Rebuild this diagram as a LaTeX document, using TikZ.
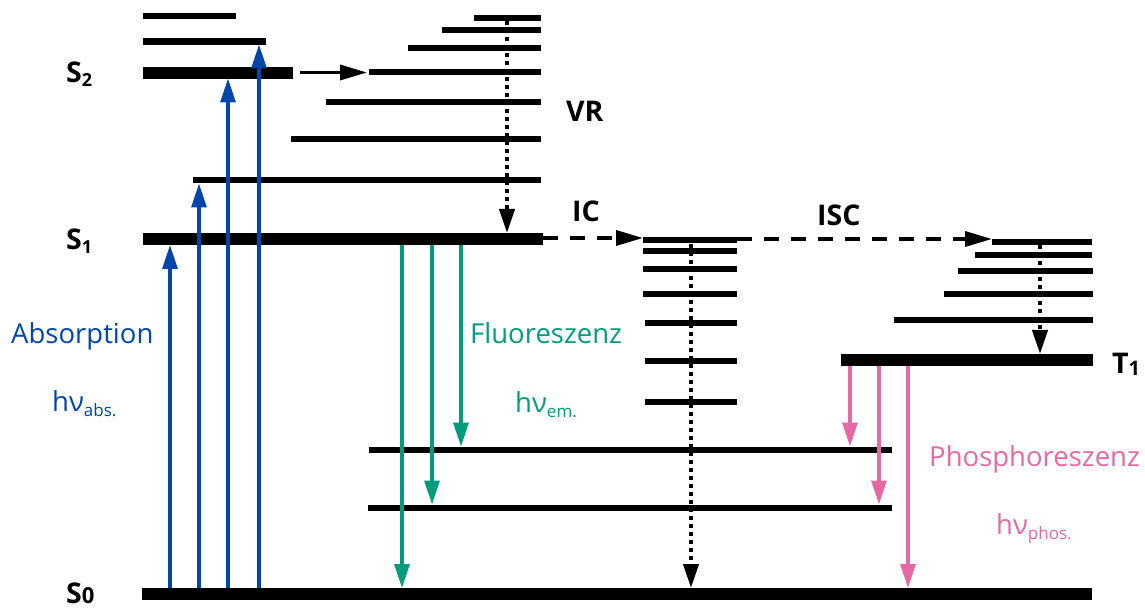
\documentclass[tikz,border=0pt]{standalone}
\usepackage{fontspec}
\setmainfont{Open Sans}
\usetikzlibrary{arrows.meta}
\definecolor{absblue}{RGB}{0,70,170}
\definecolor{fluogreen}{RGB}{0,155,125}
\definecolor{phospink}{RGB}{228,105,165}
\begin{document}
\begin{tikzpicture}[x=1pt,y=-1pt,
  thinlvl/.style={line width=6.8pt},
  thicklvl/.style={line width=12pt},
  bigtip/.style={-{Triangle[length=24pt,width=15pt]}},
  absarrow/.style={bigtip, draw=absblue, fill=absblue, line width=3.2pt},
  fluoarrow/.style={bigtip, draw=fluogreen, fill=fluogreen, line width=3.2pt},
  phosarrow/.style={bigtip, draw=phospink, fill=phospink, line width=3.2pt},
  dotarrow/.style={bigtip, line width=4pt, dash pattern=on 4pt off 4pt},
  dasharrow/.style={-{Triangle[length=27pt,width=15pt]}, line width=3.5pt, dash pattern=on 15pt off 12pt},
  statelbl/.style={inner sep=0pt, anchor=base west, font=\fontsize{28.5}{30}\selectfont\bfseries},
  proclbl/.style={inner sep=0pt, anchor=base west, font=\fontsize{27.5}{30}\selectfont},
]
\useasboundingbox (0,0) rectangle (1145,609);

% ---- S2 group (left)
\draw[thinlvl] (143,16) -- (236,16);
\draw[thinlvl] (143,41.5) -- (266,41.5);
\draw[thicklvl] (143,73) -- (293,73);
% ---- S1 vibrational ladder
\draw[thinlvl] (474,18) -- (541,18);
\draw[thinlvl] (442,30) -- (541,30);
\draw[thinlvl] (408,48) -- (541,48);
\draw[thinlvl] (369,72) -- (541,72);
\draw[thinlvl] (326,102) -- (541,102);
\draw[thinlvl] (291,139) -- (541,139);
\draw[thinlvl] (193,180) -- (541,180);
\draw[thicklvl] (143,239) -- (543,239);
% ---- S0 vibrational ladder (middle)
\draw[thinlvl] (643,240) -- (737,240);
\draw[thinlvl] (643,251) -- (737,251);
\draw[thinlvl] (643,269) -- (737,269);
\draw[thinlvl] (643,294) -- (737,294);
\draw[thinlvl] (645,323) -- (737,323);
\draw[thinlvl] (645,361) -- (737,361);
\draw[thinlvl] (645,402) -- (737,402);
% ---- T ladder
\draw[thinlvl] (992,242) -- (1092,242);
\draw[thinlvl] (975,255) -- (1092,255);
\draw[thinlvl] (958,271) -- (1093,271);
\draw[thinlvl] (944,294) -- (1093,294);
\draw[thinlvl] (894,320) -- (1093,320);
\draw[thicklvl] (841,360) -- (1093,360);
% ---- S0 levels
\draw[thinlvl] (369,450) -- (892,450);
\draw[thinlvl] (368,508) -- (892,508);
\draw[thicklvl] (142,594) -- (1092,594);

% ---- connector end points
\coordinate (hA) at (300,72.5);  \coordinate (hB) at (367,72.5);
\coordinate (vrA) at (507,21);   \coordinate (vrB) at (507,233);
\coordinate (icA) at (543,238);  \coordinate (icB) at (643,238);
\coordinate (iscA) at (737,239); \coordinate (iscB) at (992,239);
\coordinate (mdA) at (691,244);  \coordinate (mdB) at (691,588);
\coordinate (tdA) at (1040,245); \coordinate (tdB) at (1040,354);
\coordinate (b1A) at (170,588) ; \coordinate (b1B) at (170,245);
\coordinate (b2A) at (199,588) ; \coordinate (b2B) at (199,183.5);
\coordinate (b3A) at (228,588) ; \coordinate (b3B) at (228,78.5);
\coordinate (b4A) at (259,588) ; \coordinate (b4B) at (259,44.5);
\coordinate (g1A) at (402,245) ; \coordinate (g1B) at (402,588);
\coordinate (g2A) at (432,245) ; \coordinate (g2B) at (432,504.5);
\coordinate (g3A) at (461,245) ; \coordinate (g3B) at (461,446.5);
\coordinate (p1A) at (850,366) ; \coordinate (p1B) at (850,446.5);
\coordinate (p2A) at (879,366) ; \coordinate (p2B) at (879,504.5);
\coordinate (p3A) at (908,366) ; \coordinate (p3B) at (908,588);

% ---- connectors
\draw[-{Triangle[length=27pt,width=15pt]}, line width=3.5pt] (hA) -- (hB);
\draw[dotarrow] (vrA) -- (vrB);
\draw[dasharrow] (icA) -- (icB);
\draw[dasharrow] (iscA) -- (iscB);
\draw[dotarrow] (mdA) -- (mdB);
\draw[dotarrow] (tdA) -- (tdB);
\draw[absarrow] (b1A) -- (b1B);
\draw[absarrow] (b2A) -- (b2B);
\draw[absarrow] (b3A) -- (b3B);
\draw[absarrow] (b4A) -- (b4B);
\draw[fluoarrow] (g1A) -- (g1B);
\draw[fluoarrow] (g2A) -- (g2B);
\draw[fluoarrow] (g3A) -- (g3B);
\draw[phosarrow] (p1A) -- (p1B);
\draw[phosarrow] (p2A) -- (p2B);
\draw[phosarrow] (p3A) -- (p3B);

% ---- state labels
\node[statelbl] (lS2) at (66,83) {S\raisebox{-4pt}{\fontsize{18}{20}\selectfont 2}};
\node[statelbl] (lS1) at (66,250) {S\raisebox{-4pt}{\fontsize{18}{20}\selectfont 1}};
\node[statelbl] (lS0) at (66,603) {S\raisebox{0pt}{\fontsize{22}{24}\selectfont 0}};
\node[statelbl] (lT1) at (1112,373) {T\raisebox{-2pt}{\fontsize{20}{22}\selectfont 1}};
\node[statelbl] (lVR) at (566,122) {VR};
\node[statelbl] (lIC) at (572,222) {IC};
\node[statelbl] (lISC) at (817,226) {ISC};

% ---- process labels
\node[proclbl, text=absblue] (lAbs) at (11,343) {Absorption};
\node[proclbl, text=absblue] (lhabs) at (52,411) {hν\raisebox{-5pt}{\fontsize{17}{20}\selectfont abs.}};
\node[proclbl, text=fluogreen] (lFl) at (470,343) {Fluoreszenz};
\node[proclbl, text=fluogreen] (lhem) at (515,412) {hν\raisebox{-5pt}{\fontsize{17}{20}\selectfont em.}};
\node[proclbl, text=phospink] (lPh) at (929,466) {Phosphoreszenz};
\node[proclbl, text=phospink] (lhph) at (996,534) {hν\raisebox{-5pt}{\fontsize{17}{20}\selectfont phos.}};
\end{tikzpicture}
\end{document}
